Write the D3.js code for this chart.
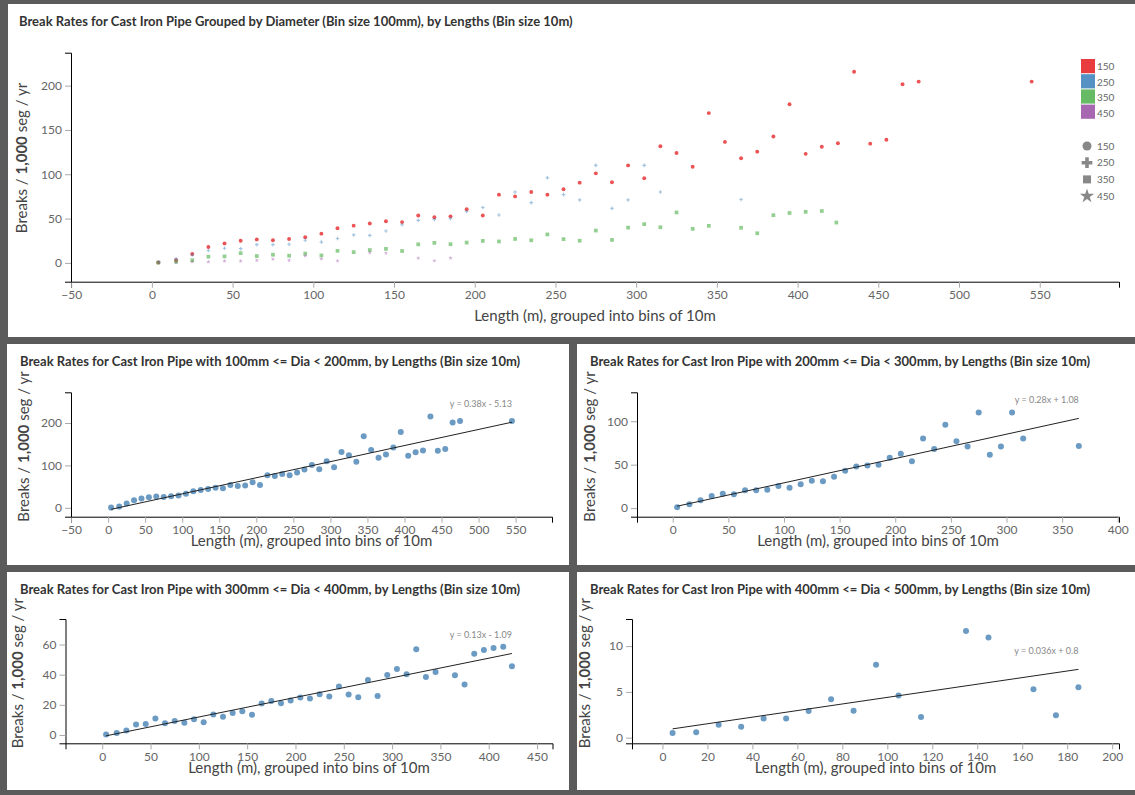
<!DOCTYPE html>
<html>
<head>
<meta charset="utf-8">
<script src="https://cdn.jsdelivr.net/npm/d3@7"></script>
<style>
  body { margin: 0; background: #5b5b5b; }
  svg text { font-family: Lato, "Open Sans", sans-serif; }
  .axis path { stroke: #000; }
  .axis line { stroke: #aaa; }
  .axis text { fill: #666; font-size: 12px; font-family: Lato, sans-serif; }
  .title { fill: #333; font-size: 13px; font-weight: bold; }
  .ylab, .xlab { fill: #444; font-size: 15px; }
  .eq { fill: #888; font-size: 9px; }
  .leg { fill: #666; font-size: 10px; }
</style>
</head>
<body>
<svg id="chart" width="1135" height="795"></svg>
<script>
// bins of 10m, mean length of each bin (m)
var len150 = [4,15,25,35,45,55,65,75,85,95,105,115,125,135,145,155,165,175,185,195,205,215,225,235,245,255,265,275,285,295,305,315,325,335,345,355,365,375,385,395,405,415,425,435,445,455,465,475,545];
var rate150 = [0.5,3,10,18,22,25,26.5,25.5,27,29,33,39,42,44.5,47,46,53.5,51.5,52.5,60.5,53.5,77,75,80,77,83,90.5,101,91,110,95.5,131.5,124,108.5,169,136.5,118,125.5,142.5,179,123,131,135,215.6,134.5,139,201.5,204.5,204.5];

var len250 = [4,15,25,35,45,55,65,75,85,95,105,115,125,135,145,155,165,175,185,195,205,215,225,235,245,255,265,275,285,295,305,315,365];
var rate250 = [1,4.5,9,14,16.5,16,20.5,20.5,21,25.5,23.5,27.5,31.5,31,36,43,48,49,50,58,62.5,54,80,68,96,77,71,110,61.5,71,110,80,71.5];

var len350 = [4,15,25,35,45,55,65,75,85,95,105,115,125,135,145,155,165,175,185,195,205,215,225,235,245,255,265,275,285,295,305,315,325,335,345,365,375,385,395,405,415,424];
var rate350 = [0.3,1.3,3,7,7.3,11,7.7,9.2,8.1,10.5,8.4,13.6,12.1,14.5,15.8,13.4,20.9,22.6,21.1,22.9,24.8,24.2,27,25.5,32.1,26.8,25,36.5,25.9,39.8,43.7,40.2,56.9,38.4,41.8,39.6,33.4,53.8,56.3,57.6,58.5,45.5];

var len450 = [4.5,15,25,35,45,55,65,75,85,95,105,115,135,145,165,175,185];
var rate450 = [0.5,0.6,1.4,1.2,2.1,2.1,2.9,4.2,2.95,7.95,4.6,2.25,11.65,10.95,5.3,2.45,5.5];

var diameters = ['150', '250', '350', '450'];
var diaColors = ['#e41a1c', '#377eb8', '#4daf4a', '#984ea3'];
var diaShapes = [d3.symbolCircle, d3.symbolCross, d3.symbolSquare, d3.symbolStar];

// fitted lines as printed on each sub chart
var fitSlope = [0.38, 0.28, 0.13, 0.036];
var fitIntercept = [-5.13, 1.08, -1.09, 0.8];
var fitLabel = ['y = 0.38x - 5.13', 'y = 0.28x + 1.08', 'y = 0.13x - 1.09', 'y = 0.036x + 0.8'];

var subTitles = [
  'Break Rates for Cast Iron Pipe with 100mm <= Dia < 200mm, by Lengths (Bin size 10m)',
  'Break Rates for Cast Iron Pipe with 200mm <= Dia < 300mm, by Lengths (Bin size 10m)',
  'Break Rates for Cast Iron Pipe with 300mm <= Dia < 400mm, by Lengths (Bin size 10m)',
  'Break Rates for Cast Iron Pipe with 400mm <= Dia < 500mm, by Lengths (Bin size 10m)'
];

var topXTicks = [-50,0,50,100,150,200,250,300,350,400,450,500,550];
var topYTicks = [0,50,100,150,200];
var subXTicks = [
  [-50,0,50,100,150,200,250,300,350,400,450,500,550],
  [0,50,100,150,200,250,300,350,400],
  [0,50,100,150,200,250,300,350,400,450],
  [0,20,40,60,80,100,120,140,160,180,200]
];
var subYTicks = [[0,100,200], [0,50,100], [0,20,40,60], [0,5,10]];
var subYMax = [272.5, 133.3, 76.9, 12.96];

var seriesLen = [len150, len250, len350, len450];
var seriesRate = [rate150, rate250, rate350, rate450];

var svg = d3.select('#chart');

function padded(ext) {
  var p = (ext[1] - ext[0]) * 0.1;
  return [ext[0] - p, ext[1] + p];
}

function panel(x, y, w, h) {
  svg.append('rect').attr('x', x).attr('y', y).attr('width', w).attr('height', h).attr('fill', '#fff');
}

function yLabel(x, y) {
  var t = svg.append('text').attr('class', 'ylab').attr('text-anchor', 'middle')
    .attr('transform', 'translate(' + x + ',' + y + ') rotate(-90)').attr('dy', '0.35em');
  t.append('tspan').text('Breaks / ');
  t.append('tspan').attr('font-weight', 'bold').text('1,000');
  t.append('tspan').text(' seg / yr');
}

//__ top chart, all diameters
panel(8, 4, 1127, 333);
svg.append('text').attr('class', 'title').attr('x', 19).attr('y', 26)
  .text('Break Rates for Cast Iron Pipe Grouped by Diameter (Bin size 100mm), by Lengths (Bin size 10m)');

var allLen = d3.merge(seriesLen), allRate = d3.merge(seriesRate);
var tx = d3.scaleLinear().domain(padded(d3.extent(allLen))).range([71, 1119]);
var ty = d3.scaleLinear().domain(padded(d3.extent(allRate))).range([281.7, 52.7]);

svg.append('g').attr('class', 'axis').attr('transform', 'translate(0,281.7)')
  .call(d3.axisBottom(tx).tickValues(topXTicks));
svg.append('g').attr('class', 'axis').attr('transform', 'translate(71,0)')
  .call(d3.axisLeft(ty).tickValues(topYTicks));

yLabel(22, 158);
svg.append('text').attr('class', 'xlab').attr('text-anchor', 'middle')
  .attr('x', (71 + 1119) / 2).attr('y', 321)
  .text('Length (m), grouped into bins of 10m');

var symSize = [12, 7, 14, 6];
var symOpacity = [0.75, 0.45, 0.6, 0.45];
diameters.forEach(function(dia, k) {
  var pts = seriesLen[k].map(function(l, i) { return { x: l, y: seriesRate[k][i] }; });
  svg.append('g').selectAll('path').data(pts).enter().append('path')
    .attr('d', d3.symbol().type(diaShapes[k]).size(symSize[k]))
    .attr('transform', function(d) { return 'translate(' + tx(d.x) + ',' + ty(d.y) + ')'; })
    .attr('fill', diaColors[k])
    .attr('fill-opacity', symOpacity[k]);
});

// legends
var legC = svg.append('g');
diameters.forEach(function(dia, k) {
  legC.append('rect').attr('x', 1081).attr('y', 59 + k * 15.2).attr('width', 14).attr('height', 14.2)
    .attr('fill', diaColors[k]).attr('fill-opacity', 0.85);
  legC.append('text').attr('class', 'leg').attr('x', 1097).attr('y', 66.5 + k * 15.6).attr('dy', '0.35em').text(dia);
});
var legS = svg.append('g');
diameters.forEach(function(dia, k) {
  legS.append('path').attr('d', d3.symbol().type(diaShapes[k]).size(64))
    .attr('transform', 'translate(1087,' + (146 + k * 16.7) + ')').attr('fill', '#888');
  legS.append('text').attr('class', 'leg').attr('x', 1097).attr('y', 146 + k * 16.7).attr('dy', '0.35em').text(dia);
});

//__ sub charts, one per diameter bin
var boxes = [
  { px: 7,   py: 344, pw: 562, ph: 221, x0: 71,  x1: 552,  y0: 392.3, y1: 516.7 },
  { px: 577, py: 344, pw: 558, ph: 221, x0: 637, x1: 1119, y0: 392.3, y1: 516.7 },
  { px: 7,   py: 572, pw: 562, ph: 218, x0: 65.5, x1: 552.5, y0: 619, y1: 743.3 },
  { px: 577, py: 572, pw: 558, ph: 218, x0: 632, x1: 1119, y0: 619, y1: 743.3 }
];

boxes.forEach(function(b, k) {
  panel(b.px, b.py, b.pw, b.ph);
  svg.append('text').attr('class', 'title').attr('x', b.px + 13).attr('y', b.py + 22).text(subTitles[k]);

  var xs = seriesLen[k], ys = seriesRate[k];
  var x = d3.scaleLinear().domain(padded(d3.extent(xs))).range([b.x0, b.x1]);
  var yLo = padded(d3.extent(ys))[0];
  var y = d3.scaleLinear().domain([yLo, subYMax[k]]).range([b.y1, b.y0]);

  svg.append('g').attr('class', 'axis').attr('transform', 'translate(0,' + b.y1 + ')')
    .call(d3.axisBottom(x).tickValues(subXTicks[k]));
  svg.append('g').attr('class', 'axis').attr('transform', 'translate(' + b.x0 + ',0)')
    .call(d3.axisLeft(y).tickValues(subYTicks[k]));

  yLabel(b.x0 - 47.5, (b.y0 + b.y1) / 2 - 8);
  svg.append('text').attr('class', 'xlab').attr('text-anchor', 'middle')
    .attr('x', (b.x0 + b.x1) / 2).attr('y', b.y1 + 29.5)
    .text('Length (m), grouped into bins of 10m');

  var pts = xs.map(function(l, i) { return { x: l, y: ys[i] }; });
  svg.append('g').selectAll('circle').data(pts).enter().append('circle')
    .attr('cx', function(d) { return x(d.x); })
    .attr('cy', function(d) { return y(d.y); })
    .attr('r', 3)
    .attr('fill', '#4682b4')
    .attr('fill-opacity', 0.8);

  var ext = d3.extent(xs);
  var fit = function(v) { return fitSlope[k] * v + fitIntercept[k]; };
  svg.append('line')
    .attr('x1', x(ext[0])).attr('y1', y(fit(ext[0])))
    .attr('x2', x(ext[1])).attr('y2', y(fit(ext[1])))
    .attr('stroke', '#222').attr('stroke-width', 1);
  svg.append('text').attr('class', 'eq').attr('text-anchor', 'end')
    .attr('x', x(ext[1])).attr('y', y(fit(ext[1])) - 15)
    .text(fitLabel[k]);
});
</script>
</body>
</html>
